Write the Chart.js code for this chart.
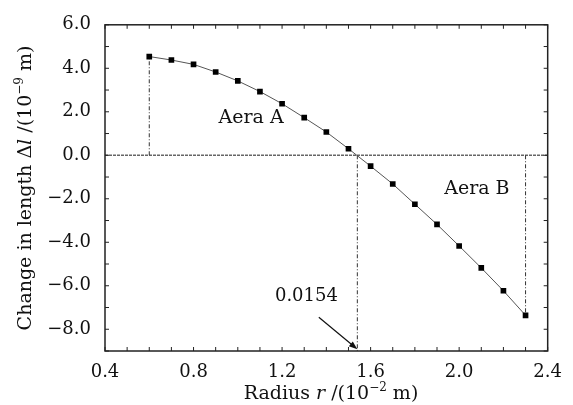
<!DOCTYPE html>
<html>
<head>
<meta charset="utf-8">
<script src="https://cdn.jsdelivr.net/npm/chart.js@4.4.1/dist/chart.umd.min.js"></script>
<style>
  html, body { margin: 0; padding: 0; background: #fff; }
</style>
</head>
<body>
<canvas id="chart" width="573" height="405"></canvas>
<script>
// Data
const radius = [0.6, 0.7, 0.8, 0.9, 1.0, 1.1, 1.2, 1.3, 1.4, 1.5, 1.6, 1.7, 1.8, 1.9, 2.0, 2.1, 2.2, 2.3];
const deltaL = [4.54, 4.38, 4.18, 3.83, 3.42, 2.93, 2.37, 1.73, 1.07, 0.30, -0.50, -1.32, -2.25, -3.18, -4.17, -5.18, -6.23, -7.36];
const xTicks = [0.4, 0.8, 1.2, 1.6, 2.0, 2.4];
const yTicks = [6, 4, 2, 0, -2, -4, -6, -8];
const xRange = [0.4, 2.4];
const yRange = [-9, 6];
const crossR = 1.54;           // zero crossing, labelled 0.0154
const areaLabels = [
    { text: 'Aera A', x: 1.06, y: 1.73 },
    { text: 'Aera B', x: 2.08, y: -1.55 }
];
const crossLabel = { text: '0.0154', x: 1.31, y: -6.5 };
const arrowFrom = { x: 1.366, y: -7.45 };
const arrowTo = { x: crossR, y: -8.92 };

const FONT = '"DejaVu Serif", "Liberation Serif", serif';
const first = radius.length - 1;

function pts(xs, ys) {
    return xs.map((x, i) => ({ x: x, y: ys[i] }));
}

// Frame, inward ticks, labels, arrow and axis titles
const decorPlugin = {
    id: 'decor',
    afterDatasetsDraw(chart) {
        const ctx = chart.ctx;
        const a = chart.chartArea;
        const xs = chart.scales.x;
        const ys = chart.scales.y;
        ctx.save();

        // frame
        ctx.strokeStyle = '#222';
        ctx.lineWidth = 1.5;
        ctx.strokeRect(a.left, a.top, a.right - a.left, a.bottom - a.top);

        // inward ticks
        ctx.lineWidth = 1;
        ctx.beginPath();
        for (let k = 4; k <= 24; k++) {
            const px = xs.getPixelForValue(k / 10);
            ctx.moveTo(px, a.bottom); ctx.lineTo(px, a.bottom - 4);
            ctx.moveTo(px, a.top); ctx.lineTo(px, a.top + 4);
        }
        for (let v = yRange[0]; v <= yRange[1]; v++) {
            const py = ys.getPixelForValue(v);
            ctx.moveTo(a.left, py); ctx.lineTo(a.left + 4, py);
            ctx.moveTo(a.right, py); ctx.lineTo(a.right - 4, py);
        }
        ctx.stroke();

        // text annotations
        ctx.fillStyle = '#111';
        ctx.textAlign = 'center';
        ctx.textBaseline = 'middle';
        ctx.font = '19px ' + FONT;
        areaLabels.forEach(l => {
            ctx.fillText(l.text, xs.getPixelForValue(l.x), ys.getPixelForValue(l.y));
        });
        ctx.font = '18px ' + FONT;
        ctx.fillText(crossLabel.text, xs.getPixelForValue(crossLabel.x), ys.getPixelForValue(crossLabel.y));

        // arrow
        const x0 = xs.getPixelForValue(arrowFrom.x), y0 = ys.getPixelForValue(arrowFrom.y);
        const x1 = xs.getPixelForValue(arrowTo.x), y1 = ys.getPixelForValue(arrowTo.y);
        const ang = Math.atan2(y1 - y0, x1 - x0);
        ctx.strokeStyle = '#111';
        ctx.lineWidth = 1.2;
        ctx.beginPath();
        ctx.moveTo(x0, y0); ctx.lineTo(x1 - 5 * Math.cos(ang), y1 - 5 * Math.sin(ang));
        ctx.stroke();
        ctx.beginPath();
        ctx.moveTo(x1, y1);
        ctx.lineTo(x1 - 9 * Math.cos(ang - 0.35), y1 - 9 * Math.sin(ang - 0.35));
        ctx.lineTo(x1 - 9 * Math.cos(ang + 0.35), y1 - 9 * Math.sin(ang + 0.35));
        ctx.closePath();
        ctx.fill();

        // axis titles
        drawTitle(ctx, [
            ['Radius ', 'n'], ['r', 'i'], [' /(10', 'n'], ['\u22122', 's'], [' m)', 'n']
        ], 331, 399, 0);
        drawTitle(ctx, [
            ['Change in length \u0394', 'n'], ['l', 'i'], [' /(10', 'n'], ['\u22129', 's'], [' m)', 'n']
        ], 31, 188, -Math.PI / 2);

        ctx.restore();
    }
};

function partFont(kind) {
    if (kind === 'i') return 'italic 19px ' + FONT;
    if (kind === 's') return '12px ' + FONT;
    return '19px ' + FONT;
}

function drawTitle(ctx, parts, cx, cy, rot) {
    ctx.save();
    ctx.textAlign = 'left';
    ctx.textBaseline = 'alphabetic';
    let total = 0;
    parts.forEach(p => { ctx.font = partFont(p[1]); total += ctx.measureText(p[0]).width; });
    ctx.translate(cx, cy);
    ctx.rotate(rot);
    let x = -total / 2;
    parts.forEach(p => {
        ctx.font = partFont(p[1]);
        ctx.fillText(p[0], x, p[1] === 's' ? -8 : 0);
        x += ctx.measureText(p[0]).width;
    });
    ctx.restore();
}

const ctx = document.getElementById('chart');
new Chart(ctx, {
    type: 'scatter',
    data: {
        datasets: [
            {
                label: 'Delta l',
                data: pts(radius, deltaL),
                showLine: true,
                borderColor: '#555',
                borderWidth: 1,
                backgroundColor: '#000',
                pointStyle: 'rect',
                pointRadius: 4,
                pointBorderWidth: 0,
                order: 0
            },
            {
                label: 'zero',
                data: pts(xRange, [0, 0]),
                showLine: true,
                borderColor: '#666',
                borderWidth: 1.4,
                borderDash: [3, 1],
                pointRadius: 0,
                order: 2
            },
            {
                label: 'edge A',
                data: pts([radius[0], radius[0]], [0, deltaL[0]]),
                showLine: true,
                borderColor: '#333',
                borderWidth: 1,
                borderDash: [4, 2, 1, 2],
                pointRadius: 0,
                order: 1
            },
            {
                label: 'cross',
                data: pts([crossR, crossR], [0, yRange[0]]),
                showLine: true,
                borderColor: '#333',
                borderWidth: 1,
                borderDash: [4, 2, 1, 2],
                pointRadius: 0,
                order: 1
            },
            {
                label: 'edge B',
                data: pts([radius[first], radius[first]], [0, deltaL[first]]),
                showLine: true,
                borderColor: '#333',
                borderWidth: 1,
                borderDash: [4, 2, 1, 2],
                pointRadius: 0,
                order: 1
            }
        ]
    },
    options: {
        responsive: false,
        animation: false,
        devicePixelRatio: 1,
        layout: { padding: { top: 19, right: 23, left: 0, bottom: 0 } },
        plugins: { legend: { display: false }, tooltip: { enabled: false } },
        scales: {
            x: {
                type: 'linear',
                min: xRange[0],
                max: xRange[1],
                afterBuildTicks: s => { s.ticks = xTicks.map(v => ({ value: v })); },
                afterFit: s => { s.height = 54; },
                grid: { display: false, drawTicks: false },
                border: { display: false },
                ticks: {
                    padding: 11,
                    color: '#111',
                    font: { family: FONT, size: 18 },
                    callback: v => v.toFixed(1)
                }
            },
            y: {
                type: 'linear',
                min: yRange[0],
                max: yRange[1],
                afterBuildTicks: s => { s.ticks = yTicks.map(v => ({ value: v })); },
                afterFit: s => { s.width = 105; },
                grid: { display: false, drawTicks: false },
                border: { display: false },
                ticks: {
                    padding: 14,
                    color: '#111',
                    font: { family: FONT, size: 18 },
                    callback: v => (v < 0 ? '\u2212' + Math.abs(v).toFixed(1) : v.toFixed(1))
                }
            }
        }
    },
    plugins: [decorPlugin]
});
</script>
</body>
</html>
